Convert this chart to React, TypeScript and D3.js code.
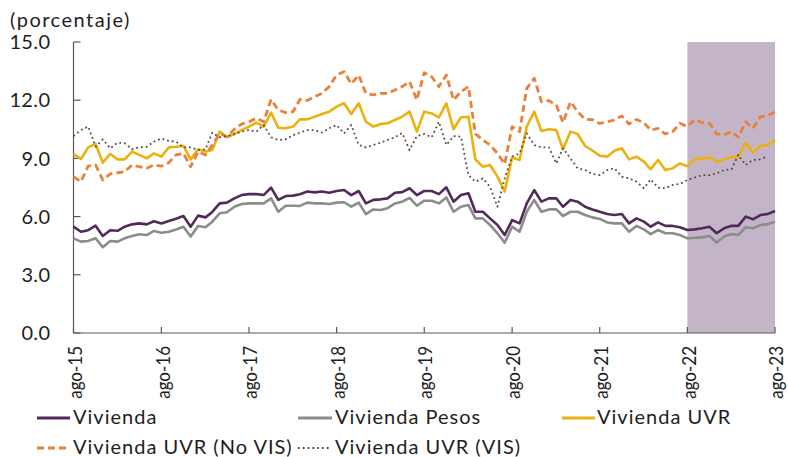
import React from "react";
import * as d3 from "d3";

// monthly series, ago-15 .. ago-23 (percent)
const vivienda = [
  5.48, 5.22, 5.3, 5.53, 5.0, 5.3, 5.27, 5.48, 5.6, 5.65, 5.6, 5.76, 5.65, 5.77, 5.89, 6.03, 5.48, 6.05, 5.96, 6.24,
  6.68, 6.72, 6.94, 7.11, 7.16, 7.16, 7.11, 7.49, 6.86, 7.06, 7.08, 7.15, 7.29, 7.25, 7.29, 7.23, 7.32, 7.37, 7.11, 7.32,
  6.68, 6.86, 6.89, 6.94, 7.23, 7.26, 7.46, 7.11, 7.32, 7.32, 7.16, 7.51, 6.77, 7.11, 7.2, 6.25, 6.25, 5.91, 5.57, 5.05,
  5.82, 5.65, 6.68, 7.37, 6.77, 6.94, 6.94, 6.51, 6.86, 6.77, 6.51, 6.37, 6.25, 6.13, 6.08, 6.13, 5.65, 5.91, 5.74, 5.48,
  5.7, 5.52, 5.52, 5.45, 5.31, 5.34, 5.4, 5.48, 5.14, 5.4, 5.53, 5.52, 6.0, 5.86, 6.08, 6.13, 6.29,
];
const viviendaPesos = [
  4.88, 4.71, 4.74, 4.88, 4.42, 4.74, 4.71, 4.88, 5.0, 5.09, 5.05, 5.26, 5.17, 5.22, 5.34, 5.48, 4.97, 5.52, 5.45, 5.74,
  6.17, 6.22, 6.51, 6.65, 6.68, 6.68, 6.68, 6.94, 6.25, 6.56, 6.56, 6.55, 6.72, 6.68, 6.68, 6.65, 6.72, 6.74, 6.51, 6.72,
  6.13, 6.37, 6.34, 6.43, 6.68, 6.77, 6.96, 6.56, 6.82, 6.82, 6.68, 6.99, 6.25, 6.51, 6.6, 5.91, 5.91, 5.57, 5.14, 4.66,
  5.48, 5.22, 6.25, 6.86, 6.25, 6.37, 6.37, 6.03, 6.25, 6.25, 6.08, 5.96, 5.88, 5.7, 5.65, 5.65, 5.22, 5.52, 5.34, 5.1,
  5.31, 5.14, 5.14, 5.05, 4.88, 4.91, 4.93, 5.0, 4.66, 4.97, 5.1, 5.05, 5.45, 5.4, 5.57, 5.6, 5.74,
];
const viviendaUVR = [
  9.23, 8.97, 9.57, 9.74, 8.78, 9.23, 8.95, 8.95, 9.35, 9.18, 9.0, 9.26, 9.09, 9.57, 9.6, 9.64, 8.95, 9.47, 9.35, 9.43,
  10.38, 10.09, 10.26, 10.46, 10.64, 10.84, 10.64, 11.36, 10.58, 10.55, 10.64, 11.01, 11.01, 11.15, 11.29, 11.41, 11.67, 11.84, 11.29, 11.84,
  10.89, 10.64, 10.77, 10.81, 10.98, 11.15, 11.41, 10.38, 11.41, 11.32, 11.12, 11.84, 10.5, 11.12, 11.15, 8.95, 8.57, 8.66, 8.06, 7.29,
  9.05, 8.92, 10.64, 11.41, 10.41, 10.5, 10.46, 9.47, 10.38, 10.26, 9.64, 9.41, 9.14, 9.09, 9.4, 9.52, 8.95, 9.09, 8.83, 8.44,
  8.92, 8.4, 8.49, 8.74, 8.6, 8.95, 9.0, 9.05, 8.83, 8.95, 9.09, 9.05, 9.81, 9.3, 9.64, 9.69, 9.95,
];
const viviendaNoVIS = [
  8.06, 7.8, 8.6, 8.66, 7.89, 8.2, 8.26, 8.32, 8.66, 8.57, 8.49, 8.66, 8.6, 8.78, 9.18, 9.26, 8.57, 9.35, 9.18, 9.69,
  10.29, 10.12, 10.5, 10.77, 10.89, 11.07, 10.89, 12.04, 11.49, 11.36, 11.41, 12.04, 11.98, 12.18, 12.35, 12.7, 13.3, 13.47, 12.84, 13.3,
  12.35, 12.27, 12.35, 12.35, 12.53, 12.7, 12.96, 12.01, 13.42, 13.21, 12.7, 13.3, 12.01, 12.44, 12.7, 10.26, 9.95, 9.69, 9.26, 8.71,
  10.64, 10.38, 12.61, 13.13, 11.92, 11.98, 11.75, 10.84, 11.92, 11.41, 11.01, 11.0, 10.8, 10.89, 10.98, 11.19, 10.77, 11.01, 10.84, 10.46,
  10.55, 10.26, 10.38, 10.81, 10.64, 11.01, 10.84, 10.81, 10.26, 10.21, 10.38, 10.09, 10.89, 10.55, 11.15, 11.19, 11.41,
];
// VIS ends one month earlier (jul-23)
const viviendaVIS = [
  10.15, 10.46, 10.64, 9.6, 9.98, 9.52, 9.81, 9.78, 9.47, 9.57, 9.6, 9.86, 10.03, 9.9, 9.86, 9.57, 9.57, 9.43, 9.47, 10.33,
  10.09, 10.15, 10.25, 10.38, 10.46, 10.38, 10.72, 10.09, 9.95, 9.98, 10.2, 10.33, 10.46, 10.46, 10.33, 10.55, 10.72, 10.29, 10.72, 9.69,
  9.57, 9.69, 9.81, 9.95, 10.09, 10.31, 9.43, 10.15, 10.26, 10.09, 10.89, 9.69, 10.15, 10.12, 8.14, 7.8, 7.97, 7.54, 6.51, 7.97,
  9.09, 9.26, 10.29, 9.69, 9.57, 9.57, 8.74, 9.52, 9.0, 8.49, 8.4, 8.2, 8.14, 8.4, 8.49, 8.06, 7.97, 7.8, 7.46, 7.92,
  7.49, 7.46, 7.63, 7.68, 7.89, 8.02, 8.14, 8.14, 8.23, 8.4, 8.44, 9.18, 8.66, 8.92, 8.95, 9.12,
];

const yTicks = [0, 3, 6, 9, 12, 15];
const xTickLabels = ["ago-15", "ago-16", "ago-17", "ago-18", "ago-19", "ago-20", "ago-21", "ago-22", "ago-23"];
const startDate = new Date(2015, 7, 1);
const endDate = new Date(2023, 7, 1);
const shadeFrom = new Date(2022, 7, 1);

const FONT = "Lato, 'DejaVu Sans', sans-serif";
const TEXT = "#1e1e1e";
const AXIS = "#595959";

const series = [
  { name: "Vivienda", values: vivienda, color: "#522a5a", width: 2.6, dash: null },
  { name: "Vivienda Pesos", values: viviendaPesos, color: "#8c8c8c", width: 2.6, dash: null },
  { name: "Vivienda UVR", values: viviendaUVR, color: "#ecb10f", width: 2.6, dash: null },
  { name: "Vivienda UVR (No VIS)", values: viviendaNoVIS, color: "#e8823a", width: 2.8, dash: "7 4" },
  { name: "Vivienda UVR (VIS)", values: viviendaVIS, color: "#5b4848", width: 1.8, dash: "1.8 3" },
];

// legend: sample line start/end, text start, row centre
const legendPos = [
  { x: 37, x2: 70, tx: 73, y: 418 },
  { x: 298, x2: 332, tx: 335, y: 418 },
  { x: 562, x2: 595, tx: 597, y: 418 },
  { x: 37, x2: 68, tx: 73, y: 448 },
  { x: 298, x2: 331, tx: 335, y: 448 },
];

export default function App() {
  const width = 788;
  const height = 457;
  const left = 73.5;
  const right = 775;
  const top = 42;
  const bottom = 333;

  const x = d3.scaleTime().domain([startDate, endDate]).range([left, right]);
  const y = d3.scaleLinear().domain([0, 15]).range([bottom, top]);
  const dateAt = (i: number) => d3.timeMonth.offset(startDate, i);

  const line = d3
    .line<number>()
    .x((_, i) => x(dateAt(i)))
    .y((d) => y(d));

  const xTicks = d3.range(0, 97, 12).map(dateAt);

  return (
    <svg
      width={width}
      height={height}
      style={{ position: "absolute", left: 0, top: 0, background: "#fff" }}
      fontFamily={FONT}
    >
      <text x={10} y={27} fontSize={20} letterSpacing={1.5} fill={TEXT}>
        (porcentaje)
      </text>

      {/* shaded last year */}
      <rect
        x={x(shadeFrom)}
        y={top}
        width={x(endDate) - x(shadeFrom)}
        height={bottom - top}
        fill="#c4b4c8"
      />

      {/* y axis */}
      <line x1={left} x2={left} y1={top} y2={bottom} stroke={AXIS} strokeWidth={1.2} />
      {yTicks.map((t) => (
        <g key={t}>
          <line x1={left} x2={left + 7} y1={y(t)} y2={y(t)} stroke={AXIS} strokeWidth={1.2} />
          <text x={50.5} y={y(t)} dy="0.36em" textAnchor="end" fontSize={20} letterSpacing={0.4} fill={TEXT}>
            {t.toFixed(1)}
          </text>
        </g>
      ))}

      {/* x axis */}
      <line x1={left} x2={right} y1={bottom} y2={bottom} stroke={AXIS} strokeWidth={1.2} />
      {xTicks.map((d, i) => (
        <g key={i}>
          <line x1={x(d)} x2={x(d)} y1={bottom} y2={bottom - 6} stroke={AXIS} strokeWidth={1.2} />
          <text
            transform={`translate(${x(d) + 1.5}, 346) rotate(-90) scale(1, 1.1)`}
            dy="0.36em"
            textAnchor="end"
            fontSize={17}
            fill={TEXT}
          >
            {xTickLabels[i]}
          </text>
        </g>
      ))}

      {/* series */}
      {series.map((s) => (
        <path
          key={s.name}
          d={line(s.values) || ""}
          fill="none"
          stroke={s.color}
          strokeWidth={s.width}
          strokeDasharray={s.dash || undefined}
          strokeLinejoin="round"
        />
      ))}

      {/* legend */}
      {series.map((s, i) => {
        const p = legendPos[i];
        return (
          <g key={s.name}>
            <line
              x1={p.x}
              x2={p.x2}
              y1={p.y}
              y2={p.y}
              stroke={s.color}
              strokeWidth={s.dash === "1.8 3" ? 1.8 : 3}
              strokeDasharray={s.dash || undefined}
            />
            <text x={p.tx} y={p.y + 6} fontSize={20} letterSpacing={1} fill={TEXT}>
              {s.name}
            </text>
          </g>
        );
      })}
    </svg>
  );
}
